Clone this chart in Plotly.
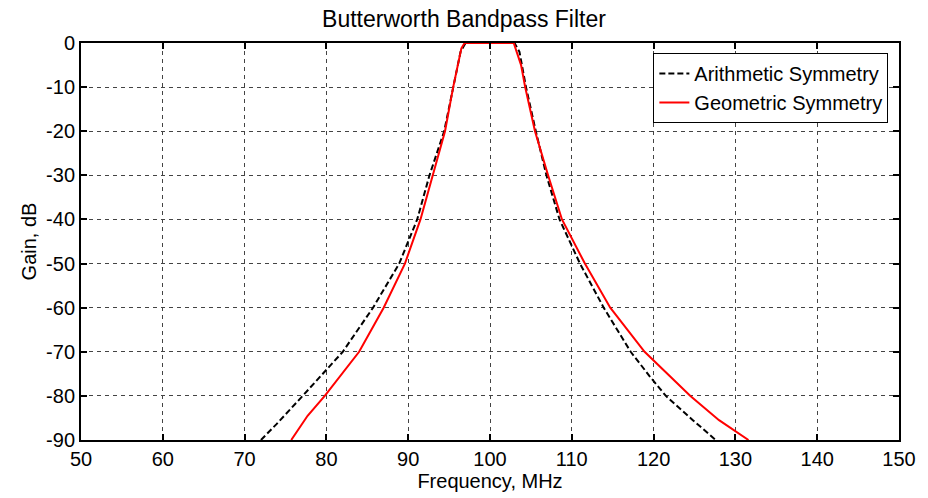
import plotly.graph_objects as go

# Arithmetic symmetry curve (frequency MHz, gain dB)
arith_freq = [72.0, 73.9, 77.1, 82.0, 85.7, 88.9, 91.1, 92.6, 94.4, 95.5, 96.4, 97.0,
              103.0, 103.6, 104.4, 105.6, 106.9, 108.5, 111.0, 113.9, 117.2, 119.5, 121.5, 124.8, 127.6]
arith_gain = [-90, -86.4, -80, -70, -60, -50, -40, -30, -20, -10, -2, 0,
              0, -2, -10, -20, -30, -40, -50, -60, -70, -75.5, -80, -85.5, -90]

# Geometric symmetry curve
geo_freq = [75.7, 77.7, 79.8, 84.0, 87.0, 89.6, 91.5, 93.0, 94.5, 95.5, 96.5, 96.9,
            102.9, 103.8, 104.3, 105.5, 107.1, 108.8, 111.6, 114.7, 118.9, 124.5, 128.0, 131.6]
geo_gain = [-90, -84.5, -80, -70, -60, -50, -40, -30, -20, -10, -1.2, 0,
            0, -5, -10, -20, -30, -40, -50, -60, -70, -80, -85.5, -90]

x_ticks = [50, 60, 70, 80, 90, 100, 110, 120, 130, 140, 150]
y_ticks = [0, -10, -20, -30, -40, -50, -60, -70, -80, -90]

fig = go.Figure()
fig.add_trace(go.Scatter(x=arith_freq, y=arith_gain, mode="lines", name="Arithmetic Symmetry",
                         line=dict(color="black", width=2, dash="6px,3px")))
fig.add_trace(go.Scatter(x=geo_freq, y=geo_gain, mode="lines", name="Geometric Symmetry",
                         line=dict(color="#ff0000", width=2)))

font_family = "Liberation Sans, Arial, sans-serif"
axis_common = dict(showline=True, linecolor="black", linewidth=2, mirror="ticks",
                   ticks="inside", ticklen=6, tickwidth=2, tickcolor="black",
                   showgrid=True, gridcolor="#444444", gridwidth=1, griddash="4px,4px",
                   zeroline=False, ticklabeloverflow="allow",
                   tickfont=dict(family=font_family, size=20, color="black"))

fig.update_xaxes(range=[50, 150], tickvals=x_ticks, ticktext=[str(v) for v in x_ticks],
                 title=dict(text="Frequency, MHz", font=dict(family=font_family, size=20, color="black"), standoff=2),
                 **axis_common)
fig.update_yaxes(range=[-90, 0], tickvals=y_ticks, ticktext=[str(v) for v in y_ticks],
                 title=dict(text="Gain, dB", font=dict(family=font_family, size=20, color="black"), standoff=4),
                 **axis_common)

fig.update_layout(
    width=928, height=498,
    margin=dict(l=81, r=19, t=43, b=57),
    paper_bgcolor="white", plot_bgcolor="white",
    title=dict(text="Butterworth Bandpass Filter", x=0.5, xanchor="center", y=0.962, yanchor="middle",
               font=dict(family=font_family, size=23, color="black")),
    legend=dict(x=0.987, xanchor="right", y=0.975, yanchor="top",
                bgcolor="white", bordercolor="black", borderwidth=1,
                font=dict(family=font_family, size=20, color="black"),
                tracegroupgap=0),
    showlegend=True,
)

fig.write_html("out.html")
